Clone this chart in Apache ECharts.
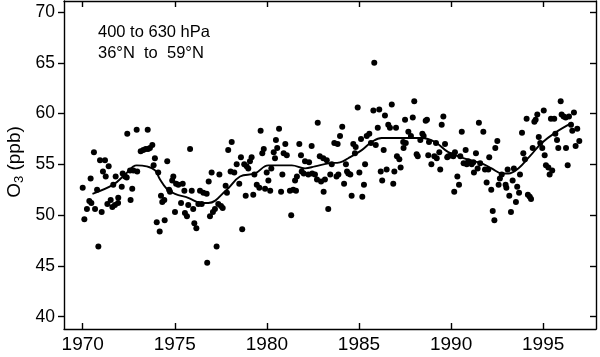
<!DOCTYPE html>
<html>
<head>
<meta charset="utf-8">
<script src="https://cdn.jsdelivr.net/npm/echarts@6/dist/echarts.min.js"></script>
<style>html,body{margin:0;padding:0;background:#fff}#c{width:600px;height:357px}</style>
</head>
<body>
<div id="c"></div>
<script>
// Monthly O3 observations (decimal year, ppb)
const obsYears = [
1970.00,1970.09,1970.23,1970.36,1970.43,1970.47,1970.61,1970.67,1970.78,1970.85,1970.94,1971.03,1971.10,1971.21,1971.25,1971.34,1971.41,1971.52,1971.61,1971.66,1971.75,1971.79,1971.92,1971.93,1972.12,1972.17,1972.30,1972.39,1972.42,1972.57,1972.60,1972.69,1972.75,1972.93,1972.96,
1973.15,1973.29,1973.42,1973.55,1973.65,1973.78,1973.53,1973.85,1973.92,1974.02,1974.10,1974.18,1974.25,1974.32,1974.43,1974.45,1974.59,1974.69,1974.74,1974.86,1974.92,1975.01,1975.07,1975.19,1975.34,1975.43,1975.52,1975.55,1975.66,1975.73,1975.83,1975.92,1976.00,1976.06,1976.17,1976.28,1976.37,1976.46,1976.55,1976.73,1976.76,1976.84,1976.91,
1977.00,1977.07,1977.18,1977.27,1977.36,1977.42,1977.51,1977.60,1977.76,1977.83,1977.90,1978.03,1978.09,1978.23,1978.36,1978.50,1978.59,1978.66,1978.77,1978.85,1978.90,1978.99,1979.08,1979.17,1979.26,1979.32,1979.45,1979.59,1979.66,1979.75,1979.83,1979.90,1979.99,
1980.08,1980.18,1980.24,1980.37,1980.44,1980.49,1980.56,1980.66,1980.77,1980.84,1980.91,1981.00,1981.08,1981.25,1981.32,1981.43,1981.53,1981.58,1981.63,1981.76,1981.85,1981.89,1982.00,1982.07,1982.25,1982.29,1982.43,1982.46,1982.61,1982.72,1982.76,1982.87,1982.94,1983.06,1983.08,1983.15,1983.25,1983.33,1983.44,1983.52,1983.66,1983.78,1983.84,1983.88,1983.97,
1984.09,1984.19,1984.29,1984.35,1984.42,1984.53,1984.60,1984.69,1984.78,1984.82,1984.93,1985.02,1985.11,1985.18,1985.27,1985.33,1985.42,1985.56,1985.65,1985.78,1985.83,1985.91,1986.02,1986.10,1986.18,1986.26,1986.34,1986.41,1986.50,1986.59,1986.68,1986.78,1986.86,1986.92,1987.01,1987.06,1987.19,1987.26,1987.40,1987.42,1987.50,1987.54,1987.68,1987.82,1987.92,
1988.00,1988.13,1988.19,1988.33,1988.44,1988.51,1988.62,1988.69,1988.76,1988.80,1988.93,1989.09,1989.18,1989.22,1989.36,1989.41,1989.49,1989.58,1989.67,1989.79,1989.85,1989.99,1990.12,1990.17,1990.21,1990.34,1990.43,1990.50,1990.58,1990.68,1990.79,1990.85,1990.93,1991.04,1991.12,1991.21,
1991.24,1991.35,1991.44,1991.51,1991.58,1991.75,1991.84,1991.93,1992.02,1992.07,1992.18,1992.26,1992.35,1992.40,1992.51,1992.58,1992.65,1992.75,1992.96,1993.00,1993.07,1993.16,1993.25,1993.34,1993.41,1993.52,1993.59,1993.69,1993.74,1993.85,1993.92,1994.01,1994.10,1994.17,1994.27,1994.34,1994.43,1994.52,1994.59,1994.68,1994.76,1994.84,1994.95,
1995.03,1995.08,1995.15,1995.28,1995.35,1995.42,1995.49,1995.60,1995.66,1995.75,1995.82,1995.95,1996.00,1996.11,1996.22,1996.24,1996.33,1996.40,1996.51,1996.58,1996.67,1996.76,1996.85,1996.96
];
const obsValues = [
52.7,49.6,50.6,51.4,53.6,51.2,56.2,50.6,52.5,46.9,55.4,50.3,54.3,55.4,53.8,51.1,54.8,51.5,50.8,53.0,51.0,53.8,51.2,51.7,52.8,54.1,53.8,53.7,58.0,54.4,51.5,52.6,54.4,58.4,54.3,
56.3,56.4,56.5,56.5,56.6,56.9,58.4,54.9,55.6,49.3,54.2,48.4,51.9,51.3,51.5,49.5,55.3,52.5,52.3,53.4,53.8,50.3,53.1,53.0,51.2,53.1,52.4,50.2,49.9,51.0,56.5,52.4,50.6,49.2,48.7,51.1,52.4,51.1,52.2,52.1,45.3,53.3,49.9,
54.2,50.3,50.6,46.9,51.1,54.0,50.9,50.7,52.9,52.2,56.4,54.3,57.2,54.2,55.0,53.1,55.7,48.6,55.0,51.9,54.8,54.6,55.3,55.7,52.0,54.0,53.0,52.7,58.3,56.1,56.5,52.6,54.2,
53.4,52.4,54.6,56.2,55.6,57.4,56.6,58.5,52.3,54.0,56.1,57.0,55.9,52.4,50.0,52.5,53.4,52.4,53.8,57.0,55.9,54.3,54.1,55.3,54.0,55.2,56.8,54.1,54.0,53.5,59.1,55.8,53.3,55.6,52.3,53.5,55.4,50.6,54.0,55.0,57.1,53.8,57.0,54.0,57.8,
58.7,53.1,55.0,54.3,54.1,54.0,51.9,57.0,56.1,56.7,60.6,54.2,57.5,51.8,53.0,55.0,57.8,58.0,57.1,60.3,65.0,56.9,58.6,60.4,54.3,53.4,56.4,59.8,54.5,58.9,58.6,60.9,53.1,54.3,58.6,55.8,55.5,54.7,57.2,56.6,59.4,57.1,58.2,57.8,59.6,
61.2,56.0,55.8,57.4,58.0,57.8,59.3,59.4,55.9,57.2,55.0,55.8,57.1,55.6,56.2,54.5,58.9,59.7,57.0,55.7,55.8,55.9,55.8,52.3,56.2,53.8,53.0,55.8,58.2,55.1,56.4,55.0,55.3,55.2,55.0,55.2,
54.2,56.1,54.6,59.1,55.1,58.2,54.5,53.2,54.5,55.7,52.5,50.4,49.5,56.6,57.3,53.0,53.6,54.0,53.0,52.7,54.5,51.9,50.3,53.4,54.6,51.3,52.8,52.2,54.0,58.1,56.1,55.5,59.5,52.0,51.8,51.6,56.6,59.2,59.4,59.9,57.7,57.1,56.6,
60.3,55.9,54.9,54.7,54.0,59.5,54.4,59.5,58.0,57.4,56.6,61.2,59.9,59.7,59.6,56.6,54.9,59.7,58.9,58.3,60.1,56.8,58.5,57.3
];
// Smoothed curve (decimal year, ppb)
const fitYears = [1970.53,1971.66,1972.30,1972.93,1973.47,1973.93,1974.20,1974.56,1975.01,1975.73,1976.46,1976.82,1977.82,1978.54,1979.35,1980.08,1981.35,1982.07,1982.61,1983.33,1983.97,1984.42,1985.15,1985.69,1986.23,1987.32,1988.40,1989.13,1989.85,1991.03,1991.66,1992.20,1992.78,1993.11,1993.65,1994.28,1994.92,1995.64,1996.58];
const fitValues = [52.1,53.0,54.0,54.9,54.8,54.4,53.5,52.6,52.1,51.7,51.2,51.2,52.5,53.8,54.1,54.9,54.9,54.6,54.8,55.1,55.2,55.6,56.4,57.2,57.6,57.6,57.6,57.2,56.2,55.4,55.1,54.6,54.1,54.1,54.6,55.8,57.1,58.1,59.1];
// Axis ticks
const xTicks = [1970,1975,1980,1985,1990,1995];
const yTicks = [40,45,50,55,60,65,70];
const note1 = '400 to 630 hPa';
const note2 = '36°N  to  59°N';

const scatterData = obsYears.map((y, i) => [y, obsValues[i]]);
const fitData = fitYears.map((y, i) => [y, fitValues[i]]);

const FONT = 'Liberation Sans';
const X_MIN = 1968.985, X_MAX = 1997.867, Y_MIN = 38.79, Y_MAX = 71.08;
const lineStyle = { color: '#000', width: 1.4 };

const chart = echarts.init(document.getElementById('c'), null, { renderer: 'canvas' });
chart.setOption({
  animation: false,
  backgroundColor: '#fff',
  grid: { left: 64, right: 4, top: 1, bottom: 28 },
  xAxis: [
    { type: 'value', position: 'bottom', min: X_MIN, max: X_MAX,
      axisLine: { show: true, lineStyle },
      axisTick: { show: true, inside: true, length: 6, customValues: xTicks, lineStyle },
      axisLabel: { show: true, customValues: xTicks, margin: 6, color: '#000', fontFamily: FONT, fontSize: 19, formatter: v => String(v) },
      splitLine: { show: false } },
    { type: 'value', position: 'top', min: X_MIN, max: X_MAX,
      axisLine: { show: true, onZero: false, lineStyle },
      axisTick: { show: true, inside: true, length: 6, customValues: xTicks, lineStyle },
      axisLabel: { show: false }, splitLine: { show: false } }
  ],
  yAxis: [
    { type: 'value', position: 'left', min: Y_MIN, max: Y_MAX,
      axisLine: { show: true, onZero: false, lineStyle },
      axisTick: { show: true, inside: false, length: 6, customValues: yTicks, lineStyle },
      axisLabel: { show: true, customValues: yTicks, margin: 9, color: '#000', fontFamily: FONT, fontSize: 17.5, formatter: v => String(v) },
      splitLine: { show: false } },
    { type: 'value', position: 'right', min: Y_MIN, max: Y_MAX,
      axisLine: { show: true, onZero: false, lineStyle },
      axisTick: { show: true, inside: true, length: 6, customValues: yTicks, lineStyle },
      axisLabel: { show: false }, splitLine: { show: false } }
  ],
  graphic: [
    { type: 'text', left: 98, top: 24, style: { text: note1, fill: '#000', font: '16.5px "Liberation Sans"' } },
    { type: 'text', left: 98, top: 45, style: { text: note2, fill: '#000', font: '16.5px "Liberation Sans"' } },
    { type: 'text', x: 15, y: 162, rotation: Math.PI / 2,
      style: { text: '{a|O}{s|3}{a| (ppb)}', align: 'center', verticalAlign: 'middle', fill: '#000',
        rich: { a: { fontFamily: FONT, fontSize: 19, fill: '#000', lineHeight: 22 },
                s: { fontFamily: FONT, fontSize: 13, fill: '#000', lineHeight: 22, padding: [9, 0, 0, 0] } } } }
  ],
  series: [
    { type: 'scatter', xAxisIndex: 0, yAxisIndex: 0, data: scatterData, symbol: 'circle', symbolSize: 6,
      itemStyle: { color: '#000', opacity: 1 }, silent: true },
    { type: 'line', xAxisIndex: 0, yAxisIndex: 0, data: fitData, smooth: 0.4, showSymbol: false, symbol: 'none',
      lineStyle: { color: '#000', width: 1.9 }, silent: true }
  ]
});
</script>
</body>
</html>
